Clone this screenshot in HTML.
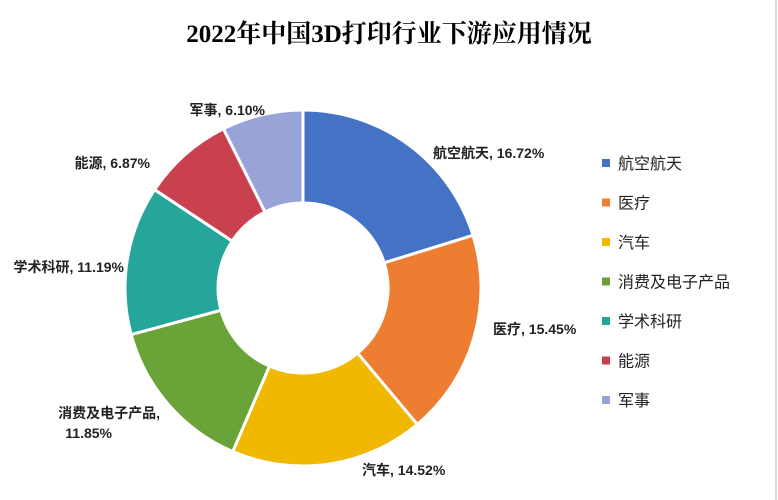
<!DOCTYPE html>
<html><head><meta charset="utf-8">
<style>
body{margin:0;background:#fff;}
svg{display:block;font-family:"Liberation Sans","Noto Sans CJK SC",sans-serif;}
</style></head>
<body>
<svg id="c" width="778" height="500" viewBox="0 0 778 500">
<rect x="0" y="0" width="778" height="500" fill="#fff"/>
<line x1="776" y1="0" x2="776" y2="500" stroke="#d9d9d9" stroke-width="2"/>
<text x="389" y="42" text-anchor="middle" font-size="25" font-weight="bold" fill="#000" font-family="Liberation Serif,Noto Serif CJK SC,serif">2022年中国3D打印行业下游应用情况</text>
<g id="slices"></g>
<g id="labels"></g>
<g id="legend"></g>
</svg>
<script>
const categories=["航空航天","医疗","汽车","消费及电子产品","学术科研","能源","军事"];
const values=[16.72,15.45,14.52,11.85,11.19,6.87,6.10];
const colors=["#4472c4","#ed7d31","#f0b800","#6aa338","#26a69a","#c9404f","#98a4d8"];
const ns="http://www.w3.org/2000/svg";
const cx=303,cy=288,R=178,r=85;
const total=values.reduce((a,b)=>a+b,0);
function pt(a,rad){return [cx+rad*Math.sin(a),cy-rad*Math.cos(a)];}
const sg=document.getElementById('slices'),lg=document.getElementById('labels'),leg=document.getElementById('legend');
let a0=0;
const labelPos=[[433,158,'start'],[493,334,'start'],[362,475,'start'],[160,418,'end'],[124,272,'end'],[150,168,'end'],[265,115,'end']];
values.forEach((v,i)=>{
  const a1=a0+v/total*2*Math.PI;
  const [x1,y1]=pt(a0,R),[x2,y2]=pt(a1,R),[x3,y3]=pt(a1,r),[x4,y4]=pt(a0,r);
  const lf=(a1-a0)>Math.PI?1:0;
  const p=document.createElementNS(ns,'path');
  p.setAttribute('d',`M${x1},${y1}A${R},${R} 0 ${lf} 1 ${x2},${y2}L${x3},${y3}A${r},${r} 0 ${lf} 0 ${x4},${y4}Z`);
  p.setAttribute('fill',colors[i]);p.setAttribute('stroke','#fff');p.setAttribute('stroke-width','3');
  
  
  sg.appendChild(p);
  const lp=labelPos[i];
  const t=document.createElementNS(ns,'text');
  t.setAttribute('x',lp[0]);t.setAttribute('y',lp[1]);t.setAttribute('text-anchor',lp[2]);
  t.setAttribute('font-size','14');t.setAttribute('fill','#222');t.setAttribute('font-weight','bold');
  
  
  if(i===3){
    t.innerHTML=`<tspan x="${lp[0]}">${categories[i]},</tspan><tspan x="${lp[0]-48}" dy="20">${v.toFixed(2)}%</tspan>`;
    t.setAttribute('text-anchor','end');
  } else t.textContent=categories[i]+', '+v.toFixed(2)+'%';
  lg.appendChild(t);
  const y=163+i*39.5;
  const s=document.createElementNS(ns,'rect');
  s.setAttribute('x',602);s.setAttribute('y',y-4);s.setAttribute('width',8);s.setAttribute('height',8);s.setAttribute('fill',colors[i]);
  
  
  leg.appendChild(s);
  const lt=document.createElementNS(ns,'text');
  lt.setAttribute('x',618);lt.setAttribute('y',y+6);lt.setAttribute('font-size','16');lt.setAttribute('fill','#222');
  lt.textContent=categories[i];
  
  
  leg.appendChild(lt);
  a0=a1;
});
</script>
</body></html>
